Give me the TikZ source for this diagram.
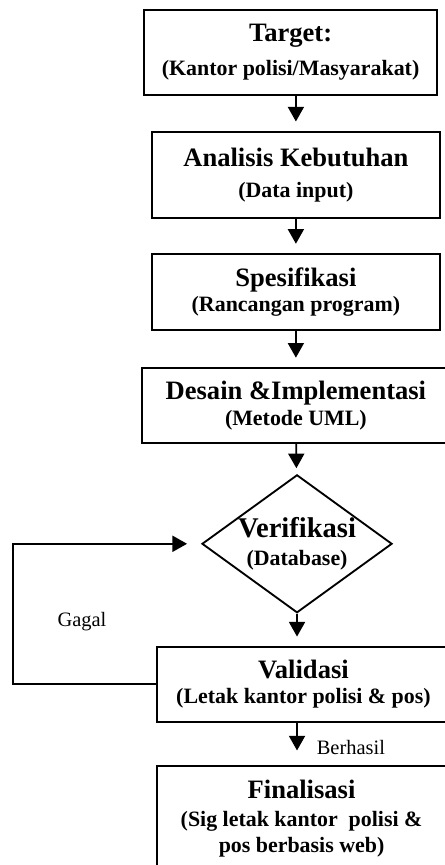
\documentclass[tikz,border=0pt]{standalone}
\usepackage{fontspec}
\setmainfont{Liberation Serif}
\usetikzlibrary{shapes.geometric, arrows.meta, calc}

\newcommand{\boxtitle}[1]{{\fontsize{20}{22}\selectfont #1}}

\begin{document}
\begin{tikzpicture}[
  stage/.style={draw, line width=1.4pt, minimum width=#1, inner sep=0pt, align=center, font=\fontsize{16.5}{19.5}\selectfont\bfseries},
  decide/.style={draw, diamond, line width=1.4pt, minimum width=5.03cm, minimum height=3.65cm, inner sep=0pt},
  arrow/.style={-{Triangle[length=11pt, width=12pt]}, line width=1.4pt, shorten >=0.25cm},
  note/.style={font=\fontsize{15.4}{18}\selectfont},
]
  \useasboundingbox (0,0) rectangle (11.75,-22.89);

  % Nodes
  \node[stage=7.75cm, minimum height=2.25cm] (tgt) at (7.69,-1.39) {\boxtitle{Target:}\\[6pt](Kantor polisi/Masyarakat)};
  \node[stage=7.62cm, minimum height=2.28cm] (ana) at (7.83,-4.63) {\boxtitle{Analisis Kebutuhan}\\[4pt](Data input)};
  \node[stage=7.62cm, minimum height=2.01cm] (spe) at (7.83,-7.73) {\boxtitle{Spesifikasi}\\(Rancangan program)};
  \node[stage=8.15cm, minimum height=1.98cm] (des) at (7.83,-10.73) {\boxtitle{Desain \&Implementasi}\\(Metode UML)};
  \node[decide, label={[align=center, font=\fontsize{16.5}{19.5}\selectfont\bfseries]center:{{\fontsize{21.5}{23}\selectfont Verifikasi}\\[2pt](Database)}}] (ver) at (7.86,-14.39) {};
  \node[stage=7.75cm, minimum height=1.98cm] (val) at (8.03,-18.11) {\boxtitle{Validasi}\\[-1pt](Letak kantor polisi \& pos)};
  \node[stage=7.75cm, minimum height=3.2cm, anchor=north] (fin) at (8.03,-20.24) {};
  \node[align=center, font=\fontsize{16.5}{20}\selectfont\bfseries] (fintxt) at (7.98,-21.66) {\boxtitle{Finalisasi}\\[1pt](Sig letak kantor\ \ polisi \&\\pos berbasis web)};

  \node[note] (gagal) at (2.17,-16.46) {Gagal};
  \node[note, anchor=west] (berhasil) at (8.26,-19.79) {Berhasil};
  \coordinate (back) at (0.34,0);

  % Arrows
  \draw[arrow] (tgt.south -| ana) -- (ana.north);
  \draw[arrow] (ana) -- (spe);
  \draw[arrow] (spe) -- (des);
  \draw[arrow, shorten >=0.16cm] (des) -- (ver);
  \draw[arrow] (ver.south) -- (val.north -| ver);
  \draw[arrow, shorten >=0.38cm] (val.south -| ver) -- (fin.north -| ver);
  \draw[arrow, shorten >=0.37cm] (val.west) -- (val.west -| back) |- (ver.west);
\end{tikzpicture}
\end{document}
